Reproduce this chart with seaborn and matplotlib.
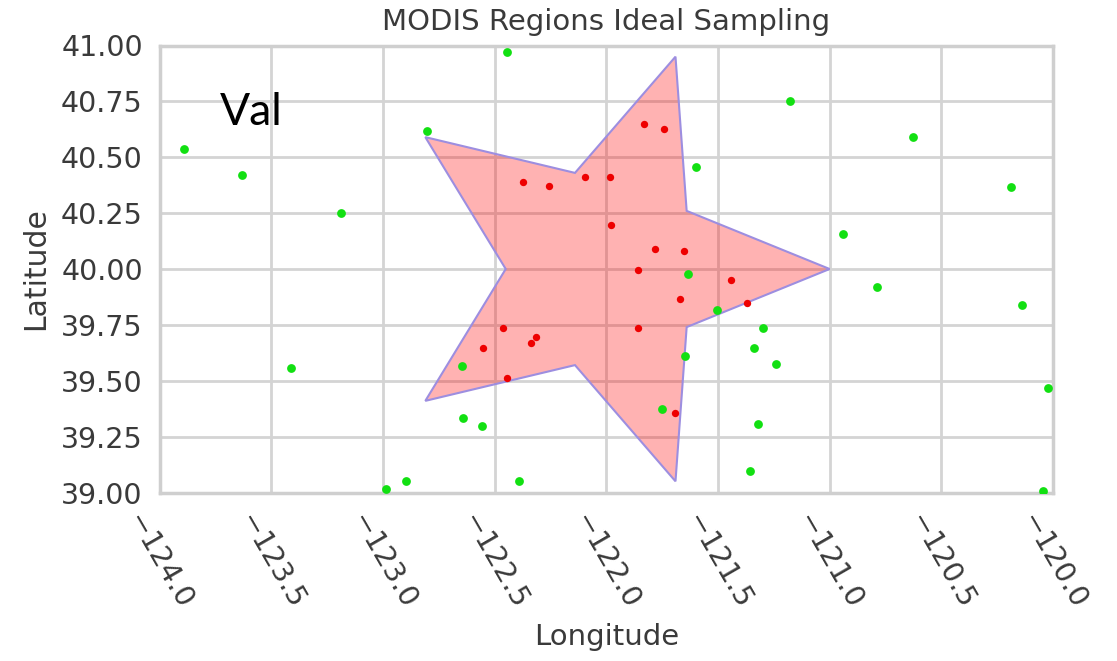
import matplotlib
matplotlib.use("Agg")
import matplotlib.pyplot as plt
import seaborn as sns
import pandas as pd

# Star-shaped region (lon, lat vertices)
star_lon = [-121.00, -121.64, -121.69, -122.14, -122.81, -122.45, -122.81, -122.14, -121.69, -121.64]
star_lat = [40.00, 40.26, 40.95, 40.43, 40.59, 40.00, 39.41, 39.57, 39.05, 39.74]

# Sample points inside the region (red)
red_lon = [-122.371, -122.256, -121.830, -121.741, -122.096, -121.983, -121.977, -121.781,
           -121.651, -121.856, -121.442, -121.669, -121.370, -121.856, -121.693, -122.461,
           -122.551, -122.316, -122.339, -122.443]
red_lat = [40.388, 40.373, 40.647, 40.625, 40.413, 40.413, 40.197, 40.089,
           40.082, 39.996, 39.950, 39.864, 39.849, 39.736, 39.354, 39.735,
           39.646, 39.694, 39.670, 39.511]

# Sample points (green)
green_lon = [-123.890, -123.631, -123.187, -123.413, -122.802, -122.443, -121.176, -120.627,
             -120.189, -121.596, -120.941, -120.787, -120.141, -120.022, -120.047, -121.636,
             -121.506, -121.297, -121.337, -121.240, -121.647, -121.751, -121.321, -121.355,
             -122.648, -122.640, -122.558, -122.898, -122.987, -122.389]
green_lat = [40.537, 40.422, 40.252, 39.557, 40.617, 40.970, 40.753, 40.592,
             40.366, 40.455, 40.155, 39.921, 39.839, 39.469, 39.007, 39.978,
             39.817, 39.735, 39.645, 39.574, 39.612, 39.372, 39.306, 39.097,
             39.566, 39.332, 39.299, 39.050, 39.017, 39.050]

x_ticks = [-124.0, -123.5, -123.0, -122.5, -122.0, -121.5, -121.0, -120.5, -120.0]
y_ticks = [39.00, 39.25, 39.50, 39.75, 40.00, 40.25, 40.50, 40.75, 41.00]

sns.set_theme(style="whitegrid")
plt.rcParams.update({
    "axes.edgecolor": "#cfcfcf",
    "grid.color": "#d4d4d4",
    "grid.linewidth": 2.0,
    "axes.linewidth": 2.5,
})

fig = plt.figure(figsize=(11.17, 6.61), dpi=100)
ax = fig.add_axes([159.5 / 1117, 1 - 492.5 / 661, (1053 - 159.5) / 1117, (492.5 - 45.5) / 661])

ax.fill(star_lon, star_lat, facecolor=(1.0, 0.0, 0.0, 0.3), edgecolor="#9d8ee0", linewidth=1.5, zorder=2)

red_df = pd.DataFrame({"lon": red_lon, "lat": red_lat})
green_df = pd.DataFrame({"lon": green_lon, "lat": green_lat})
sns.scatterplot(data=red_df, x="lon", y="lat", color="#ee0000", s=28, linewidth=0, ax=ax, zorder=3)
sns.scatterplot(data=green_df, x="lon", y="lat", color="#12e012", s=40, linewidth=0, ax=ax, zorder=3)

ax.set_xlim(-124.0, -120.0)
ax.set_ylim(39.0, 41.0)
ax.set_xticks(x_ticks)
ax.set_yticks(y_ticks)
ax.set_xticklabels([f"{v:.1f}".replace("-", "\u2212") for v in x_ticks], rotation=-60, ha="center",
                   fontsize=20.5, color="#3a3a3a")
ax.set_yticklabels([f"{v:.2f}" for v in y_ticks], fontsize=20.5, color="#3a3a3a")
ax.tick_params(axis="x", pad=6)
ax.tick_params(axis="y", pad=6)

ax.set_title("MODIS Regions Ideal Sampling", fontsize=21, color="#3a3a3a", pad=11)
ax.set_xlabel("Longitude", fontsize=21, color="#3a3a3a", labelpad=6)
ax.set_ylabel("Latitude", fontsize=21.5, color="#3a3a3a", labelpad=8)

fig.text(220 / 1117, 1 - 125 / 661, "Val", fontsize=32, family="Lato", color="black")

fig.savefig("out.png", dpi=100)
